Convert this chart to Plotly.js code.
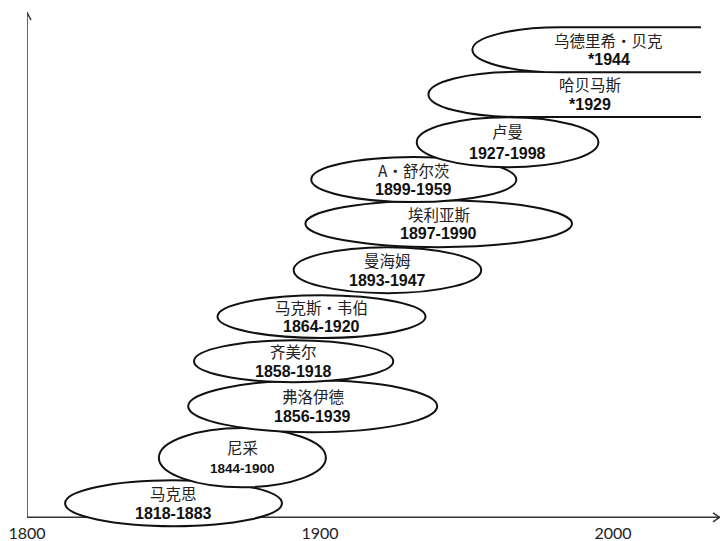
<!DOCTYPE html>
<html>
<head>
<meta charset="utf-8">
<script src="https://cdn.plot.ly/plotly-3.0.1.min.js"></script>
<style>html,body{margin:0;padding:0;background:#fff;}#chart{width:722px;height:541px;}</style>
</head>
<body>
<div id="chart"></div>
<script>
// ---- data ----
const names = ['马克思', '尼采', '弗洛伊德', '齐美尔', '马克斯・韦伯', '曼海姆', '埃利亚斯', 'A・舒尔茨', '卢曼', '哈贝马斯', '乌德里希・贝克'];
const birth = [1818, 1844, 1856, 1858, 1864, 1893, 1897, 1899, 1927, 1929, 1944];
const death = [1883, 1900, 1939, 1918, 1920, 1947, 1990, 1959, 1998, null, null];
// ellipse extents along the time axis (years), as drawn; null = still open
const spanStart = [1813, 1845, 1855, 1857, 1865, 1891, 1895, 1897, 1933, 1937, 1952];
const spanEnd = [1887, 1902, 1940, 1925, 1936, 1955, 1986, 1967, 1995, null, null];
// row level of each ellipse
const rowY = [0.31, 1.31, 2.44, 3.43, 4.41, 5.43, 6.45, 7.42, 8.24, 9.29, 10.27];
const rowHalf = [0.505, 0.65, 0.57, 0.46, 0.47, 0.505, 0.516, 0.495, 0.55, 0.495, 0.495];
const tickVals = [1800, 1900, 2000];
const tickText = ['1800', '1900', '2000'];

// ---- layout constants ----
const xMin = 1800, xMax = 2036.5;
const yMin = -0.3, yMax = 11.1;
const openEdge = 2030;     // where the open (living) shapes stop
const openRx = 30;         // curvature of their left end (years)
const openLabelX = [1992, 1998.5];

const shapes = [];
const annotations = [];

// axes lines
shapes.push({type: 'line', xref: 'x', yref: 'y', x0: xMin, x1: xMax, y0: 0, y1: 0,
  line: {color: '#333', width: 1.5}, layer: 'below'});
shapes.push({type: 'line', xref: 'x', yref: 'y', x0: xMin, x1: xMin, y0: 0, y1: yMax,
  line: {color: '#333', width: 1.5}, layer: 'below'});
// arrow heads
shapes.push({type: 'path', xref: 'x', yref: 'y', xsizemode: 'pixel', ysizemode: 'pixel',
  xanchor: xMax, yanchor: 0, path: 'M-7,4.5 L-0.5,0 L-7,-4.5',
  line: {color: '#333', width: 1.5}, layer: 'below'});
shapes.push({type: 'path', xref: 'x', yref: 'y', xsizemode: 'pixel', ysizemode: 'pixel',
  xanchor: xMin, yanchor: yMax, path: 'M-4,-8 L0,-0.5 L4,-8',
  line: {color: '#333', width: 1.5}, layer: 'below'});

const k = 0.5523;
let openIdx = 0;
for (let i = 0; i < names.length; i++) {
  const c = rowY[i], h = rowHalf[i];
  const T = c + h, B = c - h;
  let lx;
  if (spanEnd[i] !== null) {
    shapes.push({type: 'circle', xref: 'x', yref: 'y',
      x0: spanStart[i], x1: spanEnd[i], y0: B, y1: T,
      fillcolor: '#fff', line: {color: '#111', width: 2}, layer: 'above'});
    lx = (spanStart[i] + spanEnd[i]) / 2;
  } else {
    const L = spanStart[i], E = openEdge, rx = openRx;
    const p = `M${E},${T} L${L + rx},${T} C${L + rx - k * rx},${T} ${L},${c + k * h} ${L},${c} ` +
      `C${L},${c - k * h} ${L + rx - k * rx},${B} ${L + rx},${B} L${E},${B}`;
    shapes.push({type: 'path', xref: 'x', yref: 'y', path: p,
      fillcolor: '#fff', line: {color: '#111', width: 2}, layer: 'above'});
    lx = openLabelX[openIdx++];
  }
  const yearTxt = death[i] !== null ? `${birth[i]}-${death[i]}` : `*${birth[i]}`;
  const gap = (i === 1 || i === 8) ? 11 : 10;
  annotations.push({x: lx, y: c, xref: 'x', yref: 'y', text: names[i], showarrow: false,
    yshift: gap, font: {family: 'Noto Sans CJK SC, sans-serif', size: 15.5, color: '#222'}});
  annotations.push({x: lx, y: c, xref: 'x', yref: 'y', text: '<b>' + yearTxt + '</b>', showarrow: false,
    yshift: -gap, font: {family: 'Liberation Sans, Arial, sans-serif', size: i === 1 ? 13.5 : 16, color: '#111'}});
}

const layout = {
  width: 722, height: 541,
  margin: {l: 27, r: 2, t: 12, b: 10},
  paper_bgcolor: '#fff', plot_bgcolor: '#fff',
  showlegend: false,
  xaxis: {range: [xMin, xMax], tickvals: tickVals, ticktext: tickText, ticks: '',
    showgrid: false, zeroline: false, showline: false, fixedrange: true,
    anchor: 'free', position: (0 - yMin) / (yMax - yMin), ticklabelstandoff: 5,
    tickfont: {family: 'Lato, Liberation Sans, sans-serif', size: 16, color: '#222'}},
  yaxis: {range: [yMin, yMax], showticklabels: false, ticks: '', showgrid: false,
    zeroline: false, showline: false, fixedrange: true},
  shapes: shapes,
  annotations: annotations
};

Plotly.newPlot('chart', [{x: [], y: [], type: 'scatter', mode: 'markers', hoverinfo: 'skip'}], layout,
  {displayModeBar: false, staticPlot: true});
</script>
</body>
</html>
